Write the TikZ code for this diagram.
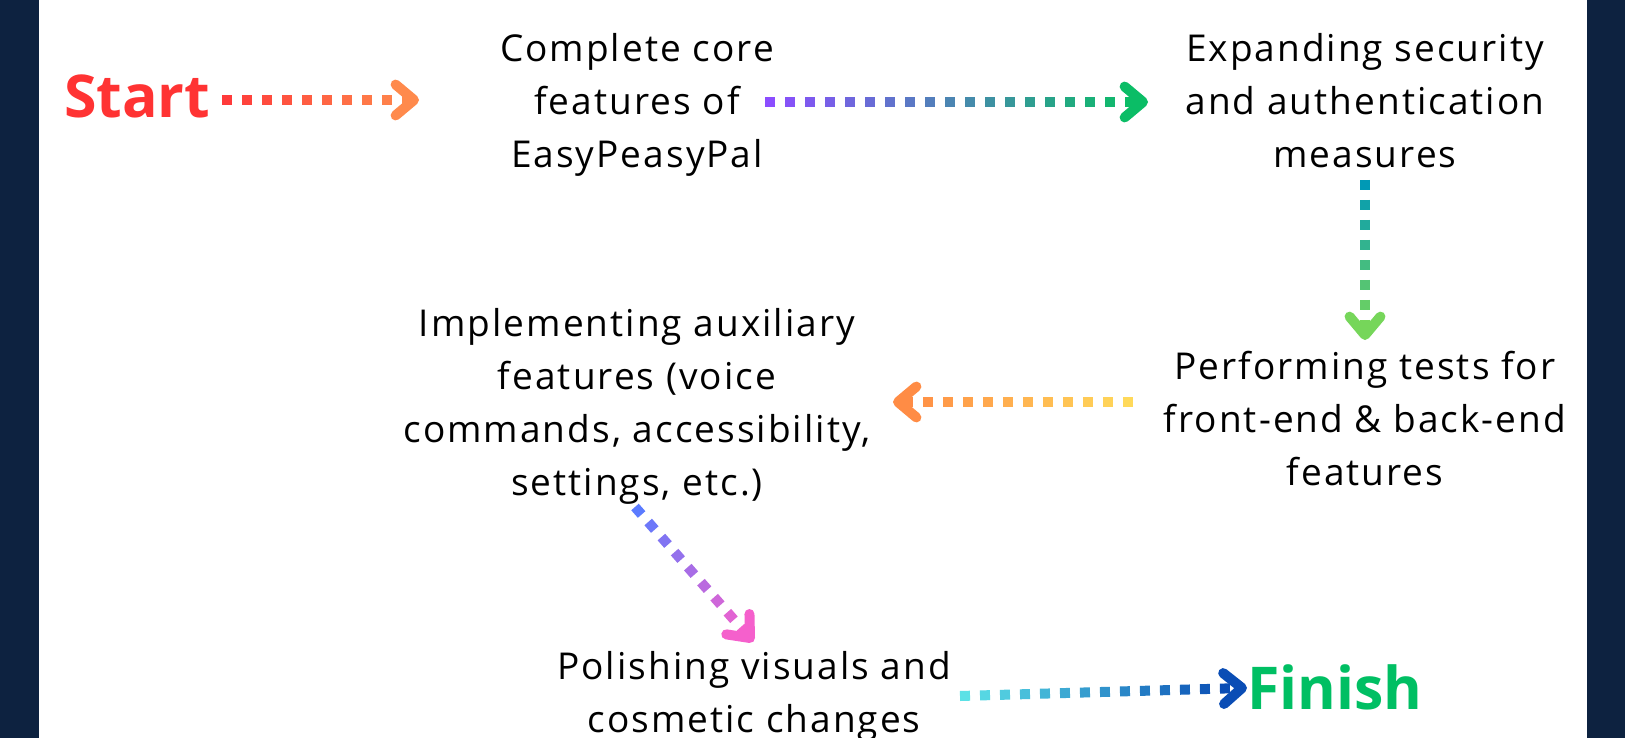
\documentclass[tikz,border=0pt]{standalone}
\usepackage{fontspec}
\setmainfont{Open Sans}
\newfontfamily\bodyfont{Open Sans}[LetterSpace=5.5]
\usetikzlibrary{calc}
\definecolor{navy}{HTML}{0D2240}
\definecolor{startred}{HTML}{FF3333}
\definecolor{finishgreen}{HTML}{00BF63}
\definecolor{cA}{HTML}{FF3A3A}\definecolor{cB}{HTML}{FF8A4C}
\definecolor{cC}{HTML}{8B4DFF}\definecolor{cD}{HTML}{0BBD66}
\definecolor{cE}{HTML}{0099B5}\definecolor{cF}{HTML}{76D65A}
\definecolor{cG}{HTML}{FFD95A}\definecolor{cH}{HTML}{FF8C45}
\definecolor{cI}{HTML}{5B7BFF}\definecolor{cJ}{HTML}{F560CC}
\definecolor{cK}{HTML}{5CE1E6}\definecolor{cL}{HTML}{0A4DB5}
\tikzset{
  stepbox/.style={align=center, inner sep=0pt, anchor=base, text=black,
    font={\bodyfont\fontsize{37pt}{53pt}\selectfont}},
  endlabel/.style={inner sep=0pt, anchor=base west,
    font={\bfseries\fontsize{59pt}{60pt}\selectfont}},
  dotseg/.style={line width=10pt, line cap=butt},
  headline/.style={line width=10pt, line cap=round, line join=round},
}
\newcommand\gconn[4]{%
  \path (#1); \pgfgetlastxy{\gax}{\gay}%
  \path (#2); \pgfgetlastxy{\gbx}{\gby}%
  \pgfmathsetmacro\glen{veclen(\gbx-\gax,\gby-\gay)}%
  \pgfmathtruncatemacro\gn{floor((\glen-10)/20)}%
  \foreach \k in {0,...,\gn}{%
    \pgfmathsetmacro\gt{\k*20/\glen}%
    \pgfmathsetmacro\gu{(\k*20+10)/\glen}%
    \pgfmathtruncatemacro\gp{100*\k/\gn}%
    \draw[dotseg, color=#4!\gp!#3] ($(#1)!\gt!(#2)$) -- ($(#1)!\gu!(#2)$);
  }%
  \draw[headline, color=#4] ($(#2)!24pt!40:(#1)$) -- (#2) -- ($(#2)!24pt!-40:(#1)$);
}
\begin{document}
\begin{tikzpicture}[x=1pt,y=-1pt]
\useasboundingbox (0,0) rectangle (1625,738);
\fill[navy] (0,0) rectangle (1625,738);
\fill[white] (39,0) rectangle (1587,738);

\node[endlabel, text=startred] (start) at (64,118) {Start};
\node[endlabel, text=finishgreen] (finish) at (1247,709) {Finish};

% anchor=base is the baseline of the last line
\node[stepbox] (core) at (637,168) {Complete core\\features of\\EasyPeasyPal};
\node[stepbox] (sec) at (1365,168) {Expanding security\\and authentication\\measures};
\node[stepbox] (aux) at (637,495) {Implementing auxiliary\\features (voice\\commands, accessibility,\\settings, etc.)};
\node[stepbox] (test) at (1365,485) {Performing tests for\\front-end \& back-end\\features};
\node[stepbox] (pol) at (754,732) {Polishing visuals and\\cosmetic changes};

\coordinate (a1s) at (222,100);  \coordinate (a1e) at (414,100);
\coordinate (a2s) at (765,102);  \coordinate (a2e) at (1143,102);
\coordinate (a3s) at (1365,180); \coordinate (a3e) at (1365,335);
\coordinate (a4s) at (1133,402); \coordinate (a4e) at (898,402);
\coordinate (a5s) at (635,507);  \coordinate (a5e) at (750,638);
\coordinate (a6s) at (960,696);  \coordinate (a6e) at (1242,688);

\gconn{a1s}{a1e}{cA}{cB}
\gconn{a2s}{a2e}{cC}{cD}
\gconn{a3s}{a3e}{cE}{cF}
\gconn{a4s}{a4e}{cG}{cH}
\gconn{a5s}{a5e}{cI}{cJ}
\gconn{a6s}{a6e}{cK}{cL}
\end{tikzpicture}
\end{document}
